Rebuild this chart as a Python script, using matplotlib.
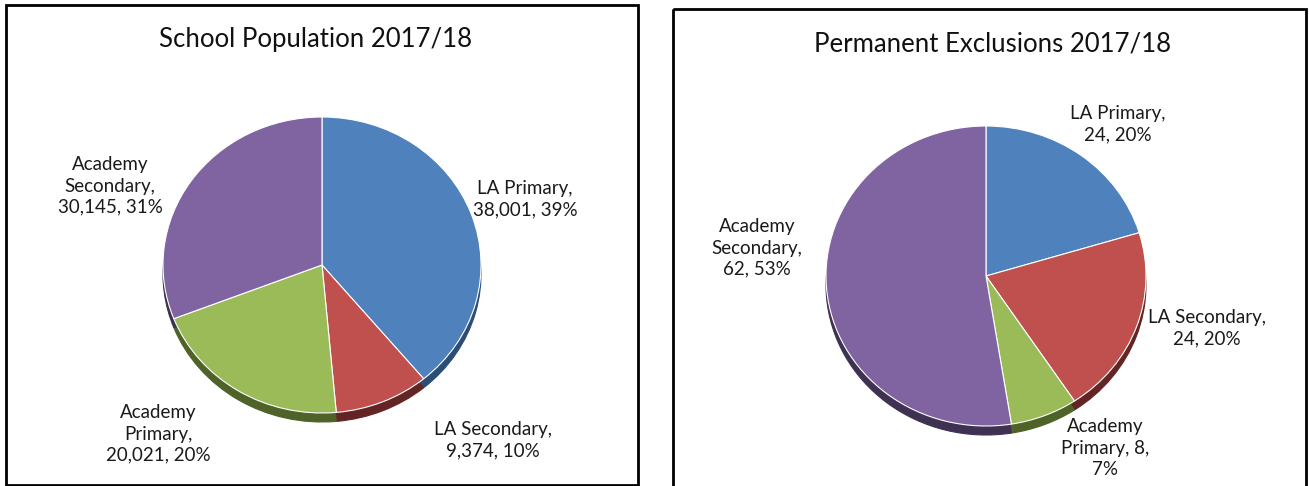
import matplotlib.pyplot as plt
from matplotlib.patches import Rectangle

# data
categories = ["LA Primary", "LA Secondary", "Academy Primary", "Academy Secondary"]
population = [38001, 9374, 20021, 30145]
exclusions = [24, 24, 8, 62]

pop_labels = ["LA Primary,\n38,001, 39%", "LA Secondary,\n9,374, 10%",
              "Academy\nPrimary,\n20,021, 20%", "Academy\nSecondary,\n30,145, 31%"]
exc_labels = ["LA Primary,\n24, 20%", "LA Secondary,\n24, 20%",
              "Academy\nPrimary, 8,\n7%", "Academy\nSecondary,\n62, 53%"]

colors = ["#4F81BD", "#C0504D", "#9BBB59", "#8064A2"]
shade = ["#2C4D75", "#632523", "#4F6228", "#3F3151"]

W, H = 1309, 486
fig = plt.figure(figsize=(W / 100, H / 100), dpi=100)
plt.rcParams['font.family'] = ['Lato', 'DejaVu Sans']

# overlay in pixel coords for frames and text
bg = fig.add_axes([0, 0, 1, 1])
bg.set_xlim(0, W)
bg.set_ylim(H, 0)
bg.axis("off")
bg.add_patch(Rectangle((6, 5), 632, 480, fill=False, lw=2, ec="black"))
bg.add_patch(Rectangle((673, 9), 633, 490, fill=False, lw=2, ec="black"))


def px_axes(x0, y0, x1, y1):
    ax = fig.add_axes([x0 / W, 1 - y1 / H, (x1 - x0) / W, (y1 - y0) / H])
    ax.patch.set_visible(False)
    return ax


def draw_pie(vals, cx, cy, rx, ry, depth=9):
    # side wall (shadow) first, then top face
    for dy, cols, edge in [(depth, shade, None), (0, colors, "white")]:
        ax = px_axes(cx - rx, cy - ry + dy, cx + rx, cy + ry + dy)
        wedges, _ = ax.pie(vals, colors=cols, startangle=90, counterclock=False, radius=1)
        for w, c in zip(wedges, cols):
            w.set_edgecolor(edge if edge else c)
            w.set_linewidth(0.8)
        ax.set_aspect("auto")
        ax.set_xlim(-1, 1)
        ax.set_ylim(-1, 1)
        ax.axis("off")


draw_pie(population, 322, 265, 159, 148)
draw_pie(exclusions, 986, 276, 160, 150)

tkw = dict(ha="center", va="center", fontsize=13.5, color="#1a1a1a", linespacing=1.3)
bg.text(316, 39, "School Population 2017/18", ha="center", va="center", fontsize=18.5, color="#111111")
bg.text(993, 44, "Permanent Exclusions 2017/18", ha="center", va="center", fontsize=18.5, color="#111111")

pop_pos = [(525, 199), (493, 440), (158, 434), (110, 186)]
exc_pos = [(1118, 124), (1207, 328), (1105, 448), (757, 248)]
for (x, y), lab in zip(pop_pos, pop_labels):
    bg.text(x, y, lab, **tkw)
for (x, y), lab in zip(exc_pos, exc_labels):
    bg.text(x, y, lab, **tkw)

fig.savefig("out.png", dpi=100)
